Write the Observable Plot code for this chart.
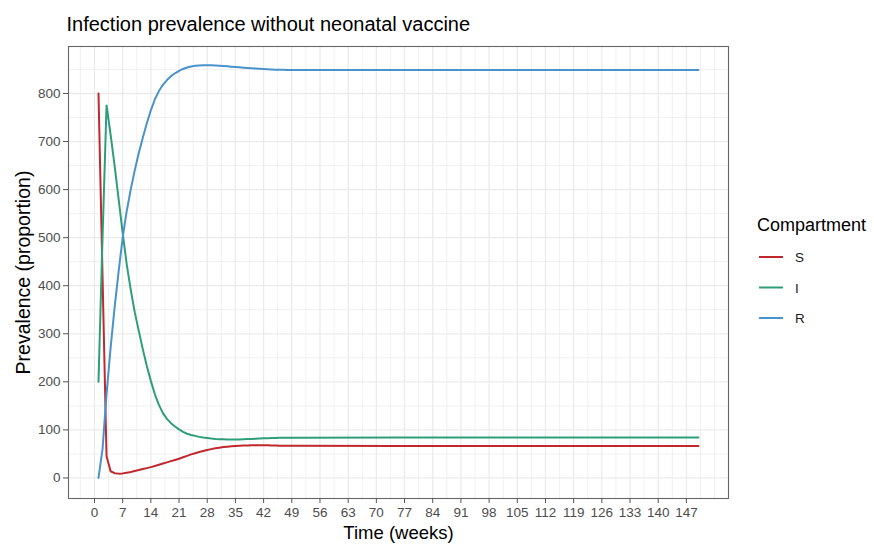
<!DOCTYPE html>
<html><head><meta charset="utf-8">
<script src="https://cdn.jsdelivr.net/npm/d3@7"></script>
<script src="https://cdn.jsdelivr.net/npm/@observablehq/plot@0.6"></script>
<style>body{margin:0;background:#fff;font-family:"Liberation Sans",Arial,sans-serif}</style>
</head><body><div id="chart"></div><script>
const title = "Infection prevalence without neonatal vaccine";
const xTitle = "Time (weeks)";
const yTitle = "Prevalence (proportion)";
const legendTitle = "Compartment";
const compartments = ["S", "I", "R"];
const colors = ["#C0282D", "#2E9E7A", "#4A92CC"];

const weeks = [1,2,3,4,5,6,7,8,9,10,11,12,13,14,15,16,17,18,19,20,21,22,23,24,25,26,27,28,29,30,31,32,33,34,35,36,37,38,39,40,41,42,43,44,45,46,47,48,49,50,75,100,125,150];
const S = [800,420,45,14,10,9,9.5,11,12.5,14.5,
  16.5,18.5,20.5,22.5,25,27.5,30,32.5,35,37.5,
  40,43,46,49,51.5,54,56,58,60,61.7,
  63,64.2,65.1,65.9,66.5,67,67.4,67.7,67.9,68,
  68,67.9,67.8,67.6,67.4,67.2,67.1,67,66.9,66.8,
  66.7,66.7,66.7,66.7];
const I = [200,500,775,715,650,580,510,445,392,345,
  306,268,233,202,174,152,135,123,114,107,
  101,96,92,89.5,87.5,85.5,84,83,82,81.2,
  80.7,80.3,80,80,80,80.2,80.5,80.9,81.3,81.7,
  82.1,82.5,82.8,83.1,83.3,83.5,83.6,83.7,83.8,83.9,
  84,84,84,84];
const R = [0,60,175,270,355,430,500,555,600,640,
  676,708,738,765,788,805,818,828,836,842,
  847,851,854,856,857.5,858.3,858.7,858.8,858.6,858.2,
  857.7,857.1,856.5,855.8,855.1,854.4,853.7,853,852.4,851.8,
  851.2,850.7,850.3,849.9,849.6,849.4,849.2,849,848.9,848.8,
  848.7,848.7,848.7,848.7];

const xTicks = [0,7,14,21,28,35,42,49,56,63,70,77,84,91,98,105,112,119,126,133,140,147];
const xMinor = [-3.5,3.5,10.5,17.5,24.5,31.5,38.5,45.5,52.5,59.5,66.5,73.5,80.5,87.5,94.5,101.5,108.5,115.5,122.5,129.5,136.5,143.5,150.5,154];
const yTicks = [0,100,200,300,400,500,600,700,800];
const yMinor = [50,150,250,350,450,550,650,750,850];

const series = [S, I, R];
const data = [];
compartments.forEach((c, k) => weeks.forEach((w, i) => data.push({week: w, value: series[k][i], compartment: c})));

const font = "Liberation Sans, Arial, sans-serif";
const plot = Plot.plot({
  width: 874, height: 544,
  marginLeft: 68, marginRight: 146, marginTop: 46, marginBottom: 46,
  style: {fontFamily: font, background: "#fff", overflow: "visible"},
  x: {domain: [-6.45, 157.45]},
  y: {domain: [-42.75, 897.75]},
  color: {domain: compartments, range: colors},
  marks: [
    Plot.gridX({ticks: xMinor, stroke: "#EBEBEB", strokeOpacity: 1, strokeWidth: 0.7}),
    Plot.gridY({ticks: yMinor, stroke: "#EBEBEB", strokeOpacity: 1, strokeWidth: 0.7}),
    Plot.gridX({ticks: xTicks, stroke: "#EBEBEB", strokeOpacity: 1, strokeWidth: 1.3}),
    Plot.gridY({ticks: yTicks, stroke: "#EBEBEB", strokeOpacity: 1, strokeWidth: 1.3}),
    Plot.lineY(data, {x: "week", y: "value", stroke: "compartment", strokeWidth: 2}),
    Plot.frame({stroke: "#666", strokeWidth: 1.1}),
    Plot.axisX({ticks: xTicks, tickSize: 5, tickPadding: 4, fontSize: 13.5, color: "#4D4D4D", stroke: "#555", label: null}),
    Plot.axisY({ticks: yTicks, tickSize: 5, tickPadding: 3, fontSize: 13.5, color: "#4D4D4D", stroke: "#555", label: null}),
    Plot.text([xTitle], {frameAnchor: "bottom", dy: 35, fontSize: 18.5, fill: "#000", lineAnchor: "middle", textAnchor: "middle"}),
    Plot.text([yTitle], {frameAnchor: "left", dx: -45, rotate: -90, fontSize: 19.5, fill: "#000", lineAnchor: "middle", textAnchor: "middle"}),
    Plot.text([title], {frameAnchor: "top-left", dx: -2, dy: -22, textAnchor: "start", lineAnchor: "middle", fontSize: 20, fill: "#000"})
  ]
});

const svg = d3.select(plot);
const color = plot.scale("color");
const lg = svg.append("g").attr("font-family", font).attr("text-anchor", "start");
lg.append("text").attr("x", 757).attr("y", 231).attr("font-size", 18).attr("fill", "#000").text(legendTitle);
compartments.forEach((c, k) => {
  const y = 257 + 30.5 * k;
  lg.append("line").attr("x1", 759).attr("x2", 783).attr("y1", y).attr("y2", y)
    .attr("stroke", colors[color.domain.indexOf(c)]).attr("stroke-width", 2);
  lg.append("text").attr("x", 795).attr("y", y + 5).attr("font-size", 13.5).attr("fill", "#1a1a1a").text(c);
});

document.getElementById("chart").appendChild(plot);
</script></body></html>
